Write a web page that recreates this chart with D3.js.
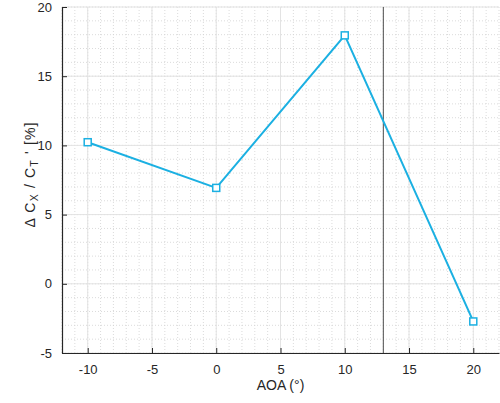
<!DOCTYPE html>
<html>
<head>
<meta charset="utf-8">
<script src="https://d3js.org/d3.v7.min.js"></script>
<style>
  body { margin: 0; background: #fff; }
  text { font-family: "Liberation Sans", Arial, sans-serif; fill: #262626; }
</style>
</head>
<body>
<svg width="500" height="403"></svg>
<script>
var aoa = [-10, 0, 10, 20],
    dcx = [10.23, 6.93, 17.95, -2.72],
    xTicks = [-10, -5, 0, 5, 10, 15, 20],
    yTicks = [-5, 0, 5, 10, 15, 20],
    markerAoa = 13;

var svg = d3.select("svg"),
    padL = 62, padR = 499, padT = 7, padB = 353,
    lineColor = "#1bb0e2";

var x = d3.scaleLinear().domain([-12, 22]).range([padL, padR]),
    y = d3.scaleLinear().domain([-5, 20]).range([padB, padT]);

var g = svg.append("g");

// minor grid (dotted)
g.selectAll(".mx").data(d3.range(-12, 23, 1)).enter().append("line")
    .attr("x1", function(d) { return x(d); }).attr("x2", function(d) { return x(d); })
    .attr("y1", padT).attr("y2", padB)
    .attr("stroke", "#d2d2d2").attr("stroke-width", 0.8).attr("stroke-dasharray", "1,2");
g.selectAll(".my").data(d3.range(-5, 21, 1)).enter().append("line")
    .attr("y1", function(d) { return y(d); }).attr("y2", function(d) { return y(d); })
    .attr("x1", padL).attr("x2", padR)
    .attr("stroke", "#d2d2d2").attr("stroke-width", 0.8).attr("stroke-dasharray", "1,2");

// major grid
g.selectAll(".gx").data(xTicks).enter().append("line")
    .attr("x1", function(d) { return x(d); }).attr("x2", function(d) { return x(d); })
    .attr("y1", padT).attr("y2", padB)
    .attr("stroke", "#e3e3e3").attr("stroke-width", 1);
g.selectAll(".gy").data(yTicks).enter().append("line")
    .attr("y1", function(d) { return y(d); }).attr("y2", function(d) { return y(d); })
    .attr("x1", padL).attr("x2", padR)
    .attr("stroke", "#e3e3e3").attr("stroke-width", 1);

// vertical reference line
g.append("line")
    .attr("x1", x(markerAoa)).attr("x2", x(markerAoa))
    .attr("y1", padT).attr("y2", padB)
    .attr("stroke", "#4d4d4d").attr("stroke-width", 1);

// axes
var fmt = function(d) { return String(d); };
var xAxis = d3.axisBottom(x).tickValues(xTicks).tickFormat(fmt).tickSizeInner(-5).tickSizeOuter(0).tickPadding(12);
var yAxis = d3.axisLeft(y).tickValues(yTicks).tickFormat(fmt).tickSizeInner(-5).tickSizeOuter(0).tickPadding(10);

var gx = svg.append("g").attr("transform", "translate(0," + padB + ")").call(xAxis);
var gy = svg.append("g").attr("transform", "translate(" + padL + ",0)").call(yAxis);
[gx, gy].forEach(function(a) {
  a.select(".domain").attr("stroke", "#262626").attr("stroke-width", 1.2);
  a.selectAll(".tick line").attr("stroke", "#262626").attr("stroke-width", 1);
  a.selectAll("text").style("font-size", "13px").attr("fill", "#262626")
      .style("font-family", "Liberation Sans, Arial, sans-serif");
});

// data line
var pts = aoa.map(function(d, i) { return [d, dcx[i]]; });
svg.append("path")
    .datum(pts)
    .attr("fill", "none")
    .attr("stroke", lineColor)
    .attr("stroke-width", 2)
    .attr("d", d3.line().x(function(d) { return x(d[0]); }).y(function(d) { return y(d[1]); }));

svg.selectAll(".pt").data(pts).enter().append("rect")
    .attr("x", function(d) { return x(d[0]) - 3.5; })
    .attr("y", function(d) { return y(d[1]) - 3.5; })
    .attr("width", 7).attr("height", 7)
    .attr("fill", "#fff")
    .attr("stroke", lineColor)
    .attr("stroke-width", 1.5);

// labels
svg.append("text")
    .attr("x", (padL + padR) / 2).attr("y", 390)
    .attr("text-anchor", "middle")
    .style("font-size", "14px")
    .text("AOA (°)");

var yl = svg.append("text")
    .attr("transform", "translate(35,175) rotate(-90)")
    .attr("text-anchor", "middle")
    .attr("textLength", 105)
    .attr("lengthAdjust", "spacing")
    .style("font-size", "14px");
yl.append("tspan").text("Δ C");
yl.append("tspan").attr("baseline-shift", "-30%").style("font-size", "10.5px").text("X");
yl.append("tspan").text(" / C");
yl.append("tspan").attr("baseline-shift", "-30%").style("font-size", "10.5px").text("T");
yl.append("tspan").text(" ' [%]");
</script>
</body>
</html>
